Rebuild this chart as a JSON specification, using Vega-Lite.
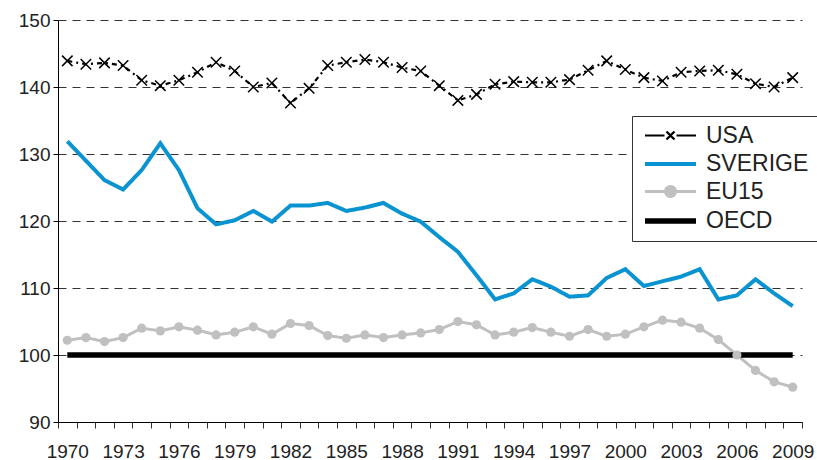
{
  "$schema": "https://vega.github.io/schema/vega-lite/v6.json",
  "width": 744,
  "height": 402,
  "autosize": {"type": "none"},
  "padding": {"left": 58, "top": 20, "right": 15, "bottom": 38},
  "background": "white",
  "config": {
    "view": {"stroke": null},
    "font": "Liberation Sans"
  },
  "data": {
    "values": [
      {"year": 1970, "USA": 143.9, "SVERIGE": 131.9, "EU15": 102.2, "OECD": 100},
      {"year": 1971, "USA": 143.4, "SVERIGE": 129.0, "EU15": 102.6, "OECD": 100},
      {"year": 1972, "USA": 143.6, "SVERIGE": 126.1, "EU15": 102.0, "OECD": 100},
      {"year": 1973, "USA": 143.2, "SVERIGE": 124.7, "EU15": 102.6, "OECD": 100},
      {"year": 1974, "USA": 141.0, "SVERIGE": 127.6, "EU15": 104.0, "OECD": 100},
      {"year": 1975, "USA": 140.2, "SVERIGE": 131.6, "EU15": 103.6, "OECD": 100},
      {"year": 1976, "USA": 141.0, "SVERIGE": 127.6, "EU15": 104.2, "OECD": 100},
      {"year": 1977, "USA": 142.2, "SVERIGE": 121.9, "EU15": 103.7, "OECD": 100},
      {"year": 1978, "USA": 143.7, "SVERIGE": 119.5, "EU15": 103.0, "OECD": 100},
      {"year": 1979, "USA": 142.4, "SVERIGE": 120.1, "EU15": 103.4, "OECD": 100},
      {"year": 1980, "USA": 140.0, "SVERIGE": 121.5, "EU15": 104.2, "OECD": 100},
      {"year": 1981, "USA": 140.6, "SVERIGE": 119.9, "EU15": 103.1, "OECD": 100},
      {"year": 1982, "USA": 137.6, "SVERIGE": 122.3, "EU15": 104.7, "OECD": 100},
      {"year": 1983, "USA": 139.8, "SVERIGE": 122.3, "EU15": 104.4, "OECD": 100},
      {"year": 1984, "USA": 143.2, "SVERIGE": 122.7, "EU15": 102.9, "OECD": 100},
      {"year": 1985, "USA": 143.7, "SVERIGE": 121.5, "EU15": 102.5, "OECD": 100},
      {"year": 1986, "USA": 144.1, "SVERIGE": 122.0, "EU15": 103.0, "OECD": 100},
      {"year": 1987, "USA": 143.7, "SVERIGE": 122.7, "EU15": 102.6, "OECD": 100},
      {"year": 1988, "USA": 142.9, "SVERIGE": 121.1, "EU15": 103.0, "OECD": 100},
      {"year": 1989, "USA": 142.4, "SVERIGE": 119.9, "EU15": 103.3, "OECD": 100},
      {"year": 1990, "USA": 140.2, "SVERIGE": 117.6, "EU15": 103.8, "OECD": 100},
      {"year": 1991, "USA": 138.0, "SVERIGE": 115.4, "EU15": 105.0, "OECD": 100},
      {"year": 1992, "USA": 138.9, "SVERIGE": 111.9, "EU15": 104.5, "OECD": 100},
      {"year": 1993, "USA": 140.4, "SVERIGE": 108.3, "EU15": 103.0, "OECD": 100},
      {"year": 1994, "USA": 140.8, "SVERIGE": 109.2, "EU15": 103.4, "OECD": 100},
      {"year": 1995, "USA": 140.7, "SVERIGE": 111.3, "EU15": 104.1, "OECD": 100},
      {"year": 1996, "USA": 140.7, "SVERIGE": 110.2, "EU15": 103.4, "OECD": 100},
      {"year": 1997, "USA": 141.1, "SVERIGE": 108.7, "EU15": 102.8, "OECD": 100},
      {"year": 1998, "USA": 142.5, "SVERIGE": 108.9, "EU15": 103.8, "OECD": 100},
      {"year": 1999, "USA": 143.9, "SVERIGE": 111.5, "EU15": 102.8, "OECD": 100},
      {"year": 2000, "USA": 142.6, "SVERIGE": 112.8, "EU15": 103.1, "OECD": 100},
      {"year": 2001, "USA": 141.4, "SVERIGE": 110.3, "EU15": 104.2, "OECD": 100},
      {"year": 2002, "USA": 140.9, "SVERIGE": 111.0, "EU15": 105.2, "OECD": 100},
      {"year": 2003, "USA": 142.2, "SVERIGE": 111.7, "EU15": 104.9, "OECD": 100},
      {"year": 2004, "USA": 142.4, "SVERIGE": 112.8, "EU15": 104.0, "OECD": 100},
      {"year": 2005, "USA": 142.5, "SVERIGE": 108.3, "EU15": 102.3, "OECD": 100},
      {"year": 2006, "USA": 141.9, "SVERIGE": 108.9, "EU15": 100.0, "OECD": 100},
      {"year": 2007, "USA": 140.5, "SVERIGE": 111.3, "EU15": 97.7, "OECD": 100},
      {"year": 2008, "USA": 140.0, "SVERIGE": 109.2, "EU15": 96.0, "OECD": 100},
      {"year": 2009, "USA": 141.4, "SVERIGE": 107.3, "EU15": 95.2, "OECD": 100}
    ]
  },
  "transform": [{"fold": ["USA", "SVERIGE", "EU15", "OECD"], "as": ["series", "value"]}],
  "encoding": {
    "x": {
      "field": "year", "type": "quantitative",
      "scale": {"domain": [1969.5, 2009.5], "nice": false, "zero": false},
      "axis": {
        "title": null, "grid": false,
        "values": [1969.5,1970.5,1971.5,1972.5,1973.5,1974.5,1975.5,1976.5,1977.5,1978.5,1979.5,1980.5,1981.5,1982.5,1983.5,1984.5,1985.5,1986.5,1987.5,1988.5,1989.5,1990.5,1991.5,1992.5,1993.5,1994.5,1995.5,1996.5,1997.5,1998.5,1999.5,2000.5,2001.5,2002.5,2003.5,2004.5,2005.5,2006.5,2007.5,2008.5,2009.5],
        "labelExpr": "((datum.value + 0.5 - 1970) % 3 == 0) && datum.value < 2009 ? format(datum.value + 0.5, 'd') : ''",
        "labelOffset": 9.3, "labelFlush": false, "labelOverlap": false, "labelBound": false,
        "labelFontSize": 19, "labelColor": "#222", "labelPadding": 14,
        "domainColor": "#000", "tickColor": "#333", "tickSize": 6, "domainWidth": 1
      }
    },
    "y": {
      "field": "value", "type": "quantitative",
      "scale": {"domain": [90, 150], "nice": false, "zero": false},
      "axis": {
        "title": null, "values": [90, 100, 110, 120, 130, 140, 150],
        "grid": true, "gridDash": [8, 6], "gridColor": "#333", "gridWidth": 1,
        "labelFontSize": 19, "labelColor": "#222", "labelPadding": 3,
        "domainColor": "#000", "tickColor": "#000", "tickSize": 5
      }
    }
  },
  "layer": [
    {
      "mark": {"type": "line", "strokeCap": "butt"},
      "encoding": {
        "color": {
          "field": "series", "type": "nominal",
          "scale": {"domain": ["USA", "SVERIGE", "EU15", "OECD"], "range": ["#000000", "#0a93d1", "#c0c0c0", "#000000"]},
          "legend": {
            "orient": "none", "legendX": 574, "legendY": 96, "title": null,
            "direction": "vertical",
            "fillColor": "white", "strokeColor": "#333", "padding": 8,
            "symbolSize": 400, "symbolType": "stroke", "symbolStrokeWidth": 4,
            "labelFontSize": 23, "labelColor": "#222", "labelOffset": 40, "rowPadding": 4,
            "encode": {
              "symbols": {
                "update": {
                  "shape": {"signal": "datum.value == 'USA' ? 'M-0.8,0H1.15M2.35,0H4.3M1.35,-0.4L2.15,0.4M1.35,0.4L2.15,-0.4' : datum.value == 'EU15' ? 'M-0.8,0H4.3M2.25,0A0.5,0.5 0 1,1 1.25,0A0.5,0.5 0 1,1 2.25,0' : 'M-0.8,0H4.3'"},
                  "strokeWidth": {"signal": "datum.value == 'USA' ? 2.5 : datum.value == 'SVERIGE' ? 4.5 : datum.value == 'EU15' ? 3 : 5"},
                  "fill": {"signal": "datum.value == 'EU15' ? '#c0c0c0' : 'transparent'"},
                  "strokeDash": {"value": [1, 0]}
                }
              }
            }
          }
        },
        "strokeWidth": {
          "field": "series", "type": "nominal",
          "scale": {"type": "ordinal", "domain": ["USA", "SVERIGE", "EU15", "OECD"], "range": [2.2, 4, 3, 5.5]},
          "legend": null
        },
        "strokeDash": {
          "condition": {"test": "datum.series == 'USA'", "value": [5, 4, 2, 4]},
          "value": [1, 0]
        }
      }
    },
    {
      "transform": [{"filter": "datum.series == 'USA'"}],
      "mark": {"type": "point", "shape": "M-1,-1L1,1M-1,1L1,-1", "size": 110, "filled": false, "color": "#000", "strokeWidth": 1.5, "opacity": 1}
    },
    {
      "transform": [{"filter": "datum.series == 'EU15'"}],
      "mark": {"type": "circle", "size": 85, "color": "#c0c0c0", "opacity": 1}
    }
  ]
}
